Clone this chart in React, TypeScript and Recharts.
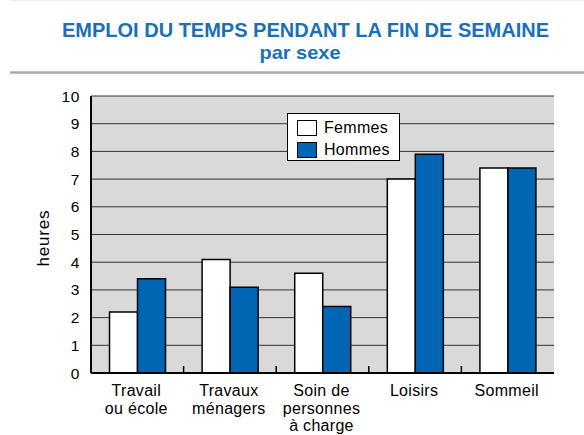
import { Bar, BarChart, CartesianGrid, Legend, XAxis, YAxis } from "recharts";

const categories = [
  "Travail\nou école",
  "Travaux\nménagers",
  "Soin de\npersonnes\nà charge",
  "Loisirs",
  "Sommeil",
];
const femmes = [2.2, 4.1, 3.6, 7.0, 7.4];
const hommes = [3.4, 3.1, 2.4, 7.9, 7.4];
const yTicks = [0, 1, 2, 3, 4, 5, 6, 7, 8, 9, 10];

const data = categories.map((category, i) => ({
  category,
  femmes: femmes[i],
  hommes: hommes[i],
}));

const FONT = '"Liberation Sans", Arial, Helvetica, sans-serif';
const BLUE = "#0066b3";
const TITLE_BLUE = "#1a6fb8";

const W = 584;
const H = 435;
const M = { top: 96, right: 30, bottom: 0, left: 0 };
const Y_AXIS_W = 91;
const X_AXIS_H = 62;

function CategoryTick(props: any) {
  const { x, y, payload, index } = props;
  const lines = String(payload.value).split("\n");
  const half = payload.offset ?? (W - Y_AXIS_W - M.right) / categories.length / 2;
  return (
    <g>
      {index > 0 && (
        <line x1={x - half} x2={x - half} y1={y} y2={y - 7} stroke="#000" strokeWidth={1.5} />
      )}
      <text
        x={x - 1}
        y={y + 23}
        textAnchor="middle"
        fontSize={16}
        fill="#000"
        fontFamily={FONT}
        letterSpacing={0.3}
      >
        {lines.map((l, i) => (
          <tspan key={i} x={x - 1} dy={i === 0 ? 0 : 17.5}>
            {l}
          </tspan>
        ))}
      </text>
    </g>
  );
}

function LegendBox(props: any) {
  const items = props.payload ?? [];
  return (
    <div
      style={{
        border: "1.5px solid #000",
        background: "#fff",
        width: 113,
        height: 48,
        boxSizing: "border-box",
        padding: "3px 0 0 9px",
        fontFamily: FONT,
      }}
    >
      {items.map((entry: any) => (
        <div key={entry.value} style={{ display: "flex", alignItems: "center", height: 22 }}>
          <span
            style={{
              width: 20,
              height: 16,
              boxSizing: "border-box",
              border: "1.5px solid #000",
              background: entry.color,
              display: "inline-block",
            }}
          />
          <span style={{ marginLeft: 7, fontSize: 16, letterSpacing: 0.3, color: "#000" }}>
            {entry.value}
          </span>
        </div>
      ))}
    </div>
  );
}

export default function App() {
  return (
    <div style={{ position: "absolute", left: 0, top: 0, width: W, height: H, background: "#fff", fontFamily: FONT }}>
      <BarChart width={W} height={H} data={data} margin={M} barCategoryGap="20%" barGap={0}>
        <CartesianGrid vertical={false} stroke="#333" fill="#d9d9d9" fillOpacity={1} />
        <XAxis
          dataKey="category"
          height={X_AXIS_H}
          interval={0}
          tickLine={false}
          tickSize={0}
          tickMargin={0}
          tick={<CategoryTick />}
          axisLine={{ stroke: "#000", strokeWidth: 2 }}
        />
        <XAxis
          xAxisId="top"
          dataKey="category"
          orientation="top"
          height={0}
          tick={false}
          tickLine={false}
          axisLine={{ stroke: "#000", strokeWidth: 2 }}
        />
        <YAxis
          width={Y_AXIS_W}
          domain={[0, 10]}
          ticks={yTicks}
          interval={0}
          tickLine={false}
          tickSize={0}
          tickMargin={11}
          tick={{ fill: "#000", fontSize: 15.5, fontFamily: FONT, letterSpacing: 0.6 }}
          axisLine={{ stroke: "#000", strokeWidth: 2 }}
        />
        <YAxis
          yAxisId="right"
          orientation="right"
          width={0}
          domain={[0, 10]}
          tick={false}
          tickLine={false}
          axisLine={{ stroke: "#000", strokeWidth: 2 }}
        />
        <Legend
          layout="vertical"
          align="center"
          verticalAlign="middle"
          wrapperStyle={{ left: 287, top: 113, width: 113, height: 48 }}
          content={<LegendBox />}
        />
        <Bar dataKey="femmes" name="Femmes" fill="#fff" stroke="#000" strokeWidth={1.5} isAnimationActive={false} />
        <Bar dataKey="hommes" name="Hommes" fill={BLUE} stroke="#000" strokeWidth={1.5} isAnimationActive={false} />
      </BarChart>
      <svg
        width={W}
        height={H}
        style={{ position: "absolute", left: 0, top: 0, pointerEvents: "none" }}
      >
        <line x1={10} x2={W} y1={0.5} y2={0.5} stroke="#ececec" strokeWidth={1} />
        <text
          x={305.5}
          y={37}
          textAnchor="middle"
          fontSize={21}
          fontWeight="bold"
          fill={TITLE_BLUE}
          fontFamily={FONT}
          textLength={487}
          lengthAdjust="spacingAndGlyphs"
        >
          EMPLOI DU TEMPS PENDANT LA FIN DE SEMAINE
        </text>
        <text
          x={300}
          y={59}
          textAnchor="middle"
          fontSize={19}
          fontWeight="bold"
          fill={TITLE_BLUE}
          fontFamily={FONT}
          textLength={81}
          lengthAdjust="spacingAndGlyphs"
        >
          par sexe
        </text>
        <line x1={10} x2={W} y1={72.5} y2={72.5} stroke="#a8a8a8" strokeWidth={2.5} />
        <text
          x={43}
          y={238}
          transform="rotate(-90 43 238)"
          textAnchor="middle"
          dominantBaseline="central"
          fontSize={17}
          fill="#000"
          fontFamily={FONT}
          letterSpacing={0.8}
        >
          heures
        </text>
      </svg>
    </div>
  );
}
